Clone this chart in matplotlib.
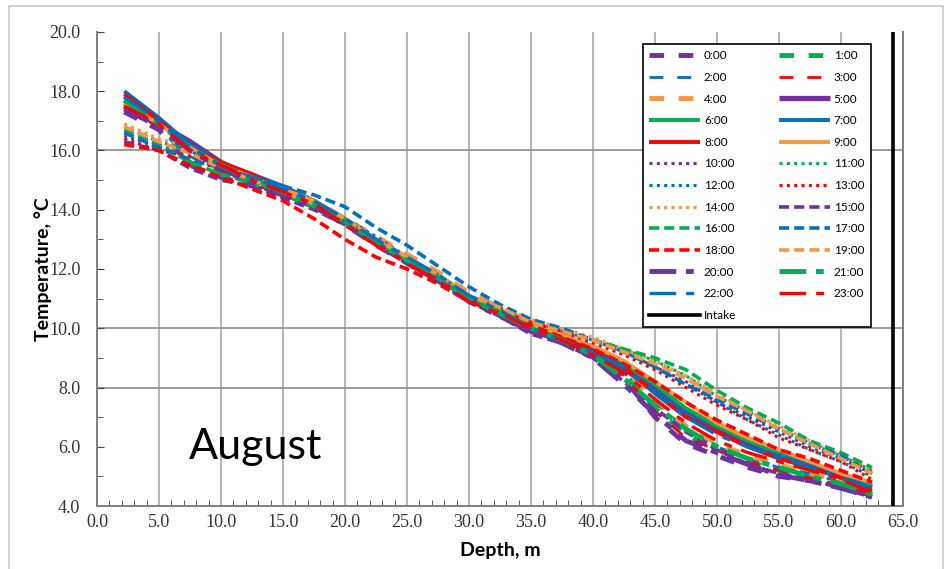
import matplotlib
matplotlib.use("Agg")
import matplotlib.pyplot as plt
from matplotlib.patches import Rectangle

# depth stations (m) shared by every hourly profile
depth = [2.2, 5, 7.5, 10, 12.5, 15, 17.5, 20, 22.5, 25, 27.5, 30, 32.5, 35,
         37.5, 40, 42.5, 45, 47.5, 50, 52.5, 55, 57.5, 60, 62.5]

# hourly temperature profiles (deg C)
t_00 = [17.3, 16.7, 15.5, 15.1, 14.8, 14.5, 14.1, 13.5, 12.8, 12.2, 11.6, 11.0, 10.5, 10.0, 9.6, 9.1, 8.3, 7.0, 6.1, 5.7, 5.3, 5.0, 4.85, 4.65, 4.35]
t_01 = [17.6, 16.9, 15.6, 15.2, 14.9, 14.6, 14.2, 13.6, 12.9, 12.3, 11.7, 11.0, 10.6, 10.1, 9.7, 9.2, 8.5, 7.3, 6.4, 5.9, 5.5, 5.2, 5.0, 4.75, 4.4]
t_02 = [17.5, 16.8, 15.8, 15.3, 15.0, 14.6, 14.3, 13.7, 13.0, 12.4, 11.8, 11.1, 10.6, 10.1, 9.7, 9.3, 8.6, 7.5, 6.6, 6.0, 5.6, 5.3, 5.1, 4.8, 4.5]
t_03 = [17.4, 16.8, 16.0, 15.4, 15.0, 14.7, 14.3, 13.7, 13.0, 12.4, 11.8, 11.1, 10.7, 10.2, 9.7, 9.2, 8.4, 7.2, 6.3, 5.9, 5.5, 5.2, 4.95, 4.7, 4.4]
t_04 = [17.7, 17.0, 16.1, 15.5, 15.1, 14.7, 14.3, 13.7, 13.1, 12.5, 11.9, 11.2, 10.7, 10.2, 9.8, 9.3, 8.6, 7.6, 6.7, 6.1, 5.7, 5.4, 5.1, 4.85, 4.55]
t_05 = [17.5, 16.9, 16.3, 15.6, 15.1, 14.7, 14.2, 13.6, 12.9, 12.3, 11.7, 11.0, 10.5, 9.9, 9.6, 9.2, 8.7, 8.0, 7.2, 6.6, 6.1, 5.75, 5.4, 5.0, 4.65]
t_06 = [17.8, 17.0, 16.2, 15.6, 15.1, 14.7, 14.3, 13.7, 13.0, 12.3, 11.7, 11.0, 10.6, 10.0, 9.7, 9.3, 8.8, 8.1, 7.3, 6.7, 6.2, 5.8, 5.4, 5.05, 4.7]
t_07 = [18.0, 17.1, 16.2, 15.6, 15.2, 14.8, 14.3, 13.7, 13.0, 12.4, 11.8, 11.1, 10.6, 10.0, 9.6, 9.2, 8.6, 7.9, 7.1, 6.5, 6.0, 5.7, 5.35, 5.0, 4.6]
t_08 = [17.9, 17.0, 16.1, 15.6, 15.2, 14.7, 14.3, 13.6, 12.9, 12.3, 11.7, 11.0, 10.5, 10.1, 9.7, 9.3, 8.7, 7.8, 7.0, 6.5, 6.0, 5.6, 5.3, 4.95, 4.5]
t_09 = [17.6, 16.9, 16.1, 15.5, 15.1, 14.7, 14.3, 13.7, 13.0, 12.4, 11.8, 11.1, 10.6, 10.1, 9.8, 9.4, 8.9, 8.2, 7.5, 6.8, 6.3, 5.9, 5.5, 5.1, 4.8]
t_10 = [16.5, 16.1, 15.9, 15.3, 14.9, 14.5, 14.1, 13.6, 12.9, 12.3, 11.7, 11.0, 10.6, 10.2, 9.9, 9.6, 9.2, 8.7, 8.2, 7.5, 7.0, 6.5, 6.0, 5.6, 5.1]
t_11 = [16.6, 16.2, 15.9, 15.4, 15.0, 14.6, 14.2, 13.7, 13.0, 12.4, 11.8, 11.1, 10.6, 10.2, 9.9, 9.6, 9.3, 8.9, 8.4, 7.7, 7.2, 6.6, 6.1, 5.7, 5.2]
t_12 = [16.8, 16.3, 16.0, 15.4, 15.0, 14.6, 14.2, 13.7, 13.1, 12.4, 11.8, 11.1, 10.7, 10.3, 9.9, 9.6, 9.2, 8.7, 8.1, 7.5, 6.9, 6.4, 5.9, 5.5, 5.0]
t_13 = [16.4, 16.0, 15.8, 15.3, 14.9, 14.5, 14.1, 13.6, 12.9, 12.3, 11.7, 11.0, 10.6, 10.2, 9.9, 9.5, 9.1, 8.6, 8.0, 7.4, 6.9, 6.3, 5.9, 5.5, 4.9]
t_14 = [16.9, 16.4, 16.1, 15.5, 15.0, 14.6, 14.2, 13.7, 13.0, 12.4, 11.8, 11.1, 10.7, 10.3, 10.0, 9.7, 9.3, 8.9, 8.4, 7.8, 7.2, 6.7, 6.2, 5.7, 5.2]
t_15 = [16.3, 16.0, 15.4, 15.0, 14.8, 14.4, 14.0, 13.5, 12.8, 12.2, 11.6, 10.9, 10.4, 9.8, 9.5, 9.0, 8.2, 7.3, 6.5, 5.9, 5.4, 5.1, 4.9, 4.6, 4.3]
t_16 = [16.7, 16.2, 15.6, 15.2, 14.9, 14.5, 14.1, 13.6, 12.9, 12.3, 11.7, 11.0, 10.6, 10.2, 9.9, 9.6, 9.3, 9.0, 8.6, 7.9, 7.3, 6.8, 6.2, 5.8, 5.3]
t_17 = [16.6, 16.1, 15.7, 15.4, 15.1, 14.8, 14.5, 14.1, 13.4, 12.8, 12.1, 11.4, 10.8, 10.3, 10.0, 9.6, 9.2, 8.7, 8.1, 7.6, 7.1, 6.6, 6.1, 5.7, 5.1]
t_18 = [16.2, 16.0, 15.5, 15.1, 14.7, 14.3, 13.7, 13.0, 12.4, 12.0, 11.5, 10.9, 10.5, 10.1, 9.7, 9.3, 8.8, 8.2, 7.5, 6.9, 6.4, 5.9, 5.6, 5.2, 4.8]
t_19 = [16.8, 16.3, 15.9, 15.4, 15.0, 14.6, 14.2, 13.7, 13.0, 12.4, 11.8, 11.1, 10.7, 10.2, 9.9, 9.6, 9.2, 8.8, 8.3, 7.7, 7.2, 6.6, 6.1, 5.6, 5.1]
t_20 = [17.4, 16.8, 16.0, 15.4, 14.9, 14.5, 14.1, 13.5, 12.9, 12.2, 11.6, 10.9, 10.4, 9.9, 9.5, 9.0, 8.1, 7.1, 6.2, 5.8, 5.4, 5.05, 4.85, 4.6, 4.3]
t_21 = [17.7, 16.9, 16.1, 15.5, 15.0, 14.6, 14.2, 13.6, 12.9, 12.3, 11.7, 11.0, 10.5, 10.0, 9.6, 9.1, 8.3, 7.4, 6.6, 6.0, 5.6, 5.3, 5.0, 4.75, 4.4]
t_22 = [17.8, 17.0, 16.1, 15.5, 15.1, 14.7, 14.3, 13.7, 13.0, 12.4, 11.8, 11.1, 10.6, 10.0, 9.6, 9.2, 8.7, 7.8, 7.0, 6.4, 6.0, 5.6, 5.3, 4.95, 4.55]
t_23 = [17.5, 16.9, 16.0, 15.5, 15.0, 14.6, 14.2, 13.5, 12.8, 12.2, 11.6, 10.9, 10.5, 10.0, 9.6, 9.1, 8.5, 7.6, 6.8, 6.2, 5.8, 5.5, 5.2, 4.9, 4.45]

profiles = [t_00, t_01, t_02, t_03, t_04, t_05, t_06, t_07, t_08, t_09, t_10, t_11,
            t_12, t_13, t_14, t_15, t_16, t_17, t_18, t_19, t_20, t_21, t_22, t_23]
hours = [f"{h}:00" for h in range(24)]

intake_depth = 64.2

# excel-ish palette, cycling purple/green/blue/red/orange
PURPLE, GREEN, BLUE, RED, ORANGE = "#7030A0", "#00B050", "#0070C0", "#FF0000", "#F79646"
colors = [PURPLE, GREEN, BLUE, RED, ORANGE] * 5

def style(h):
    # (linewidth, dash pattern) for each hour
    if h in (0, 1, 4):
        return 3.5, (0, (3, 3))
    if h in (2, 3):
        return 2.0, (0, (5, 5))
    if h == 5:
        return 3.8, "solid"
    if 6 <= h <= 9:
        return 2.8, "solid"
    if 10 <= h <= 14:
        return 2.2, (0, (1, 1.4))
    if 15 <= h <= 19:
        return 2.6, (0, (2.8, 1.4))
    if h in (20, 21):
        return 3.5, (0, (5.5, 2, 1.6, 2))
    return 2.4, (0, (8, 3, 2.4, 3))


plt.rcParams["font.family"] = ["Lato", "DejaVu Sans"]

fig = plt.figure(figsize=(9.47, 5.69), dpi=100)
ax = fig.add_axes([0.1024, 0.1107, 0.8511, 0.8331])

# light grey frame round the whole chart
fig.patches.append(Rectangle((0.009, -0.01), 0.987, 1.0, transform=fig.transFigure,
                             fill=False, edgecolor="#c8c8c8", lw=1.2))

for x in range(5, 65, 5):
    ax.axvline(x, color="#b4b4b4", lw=1.4, zorder=0)
for y in (8, 10, 16):
    ax.axhline(y, color="#8c8c8c", lw=1.2, zorder=0)

for h, temps in enumerate(profiles):
    lw, ls = style(h)
    ax.plot(depth, temps, color=colors[h], lw=lw, linestyle=ls, label=hours[h],
            solid_capstyle="butt", dash_capstyle="butt", zorder=2)

ax.axvline(intake_depth, color="black", lw=2.6, label="Intake", zorder=3)

ax.set_xlim(0, 65)
ax.set_ylim(4, 20)
ax.set_xticks(range(0, 70, 5))
ax.set_xticklabels([f"{v:.1f}" for v in range(0, 70, 5)])
ax.set_xticks(range(0, 66), minor=True)
ax.set_yticks(range(4, 22, 2))
ax.set_yticklabels([f"{v:.1f}" for v in range(4, 22, 2)])
ax.set_yticks(range(4, 21), minor=True)

ax.tick_params(axis="both", which="both", direction="in", colors="#404040")
ax.tick_params(axis="x", which="major", length=0, pad=6)
ax.tick_params(axis="x", which="minor", length=4)
ax.tick_params(axis="y", which="major", length=5, pad=12)
ax.tick_params(axis="y", which="minor", length=4)
for lab in ax.get_xticklabels() + ax.get_yticklabels():
    lab.set_family(["Liberation Serif", "DejaVu Serif"])
    lab.set_fontsize(13)
    lab.set_color("#333333")

ax.spines["top"].set_visible(False)
for side in ("left", "bottom", "right"):
    ax.spines[side].set_color("#808080")
    ax.spines[side].set_linewidth(1.4)

ax.set_xlabel("Depth, m", fontsize=14, fontweight="bold", labelpad=8)
ax.set_ylabel("Temperature, °C", fontsize=14, fontweight="bold", labelpad=-2)

ax.text(7.4, 6.0, "August", fontsize=31, color="black", ha="left", va="center")

# row-wise legend: even hours + Intake in first column, odd hours in second
handles, labels = ax.get_legend_handles_labels()
order = list(range(0, 24, 2)) + [24] + list(range(1, 24, 2))
leg = ax.legend([handles[i] for i in order], [labels[i] for i in order],
                ncol=2, loc="upper right", bbox_to_anchor=(0.960, 0.975),
                fontsize=8.5, handlelength=4.3, handletextpad=0.35,
                columnspacing=3.6, labelspacing=0.9, borderpad=0.55,
                borderaxespad=0, fancybox=False, framealpha=1)
leg.get_frame().set_edgecolor("black")
leg.get_frame().set_linewidth(1.2)

fig.savefig("out.png", dpi=100)
